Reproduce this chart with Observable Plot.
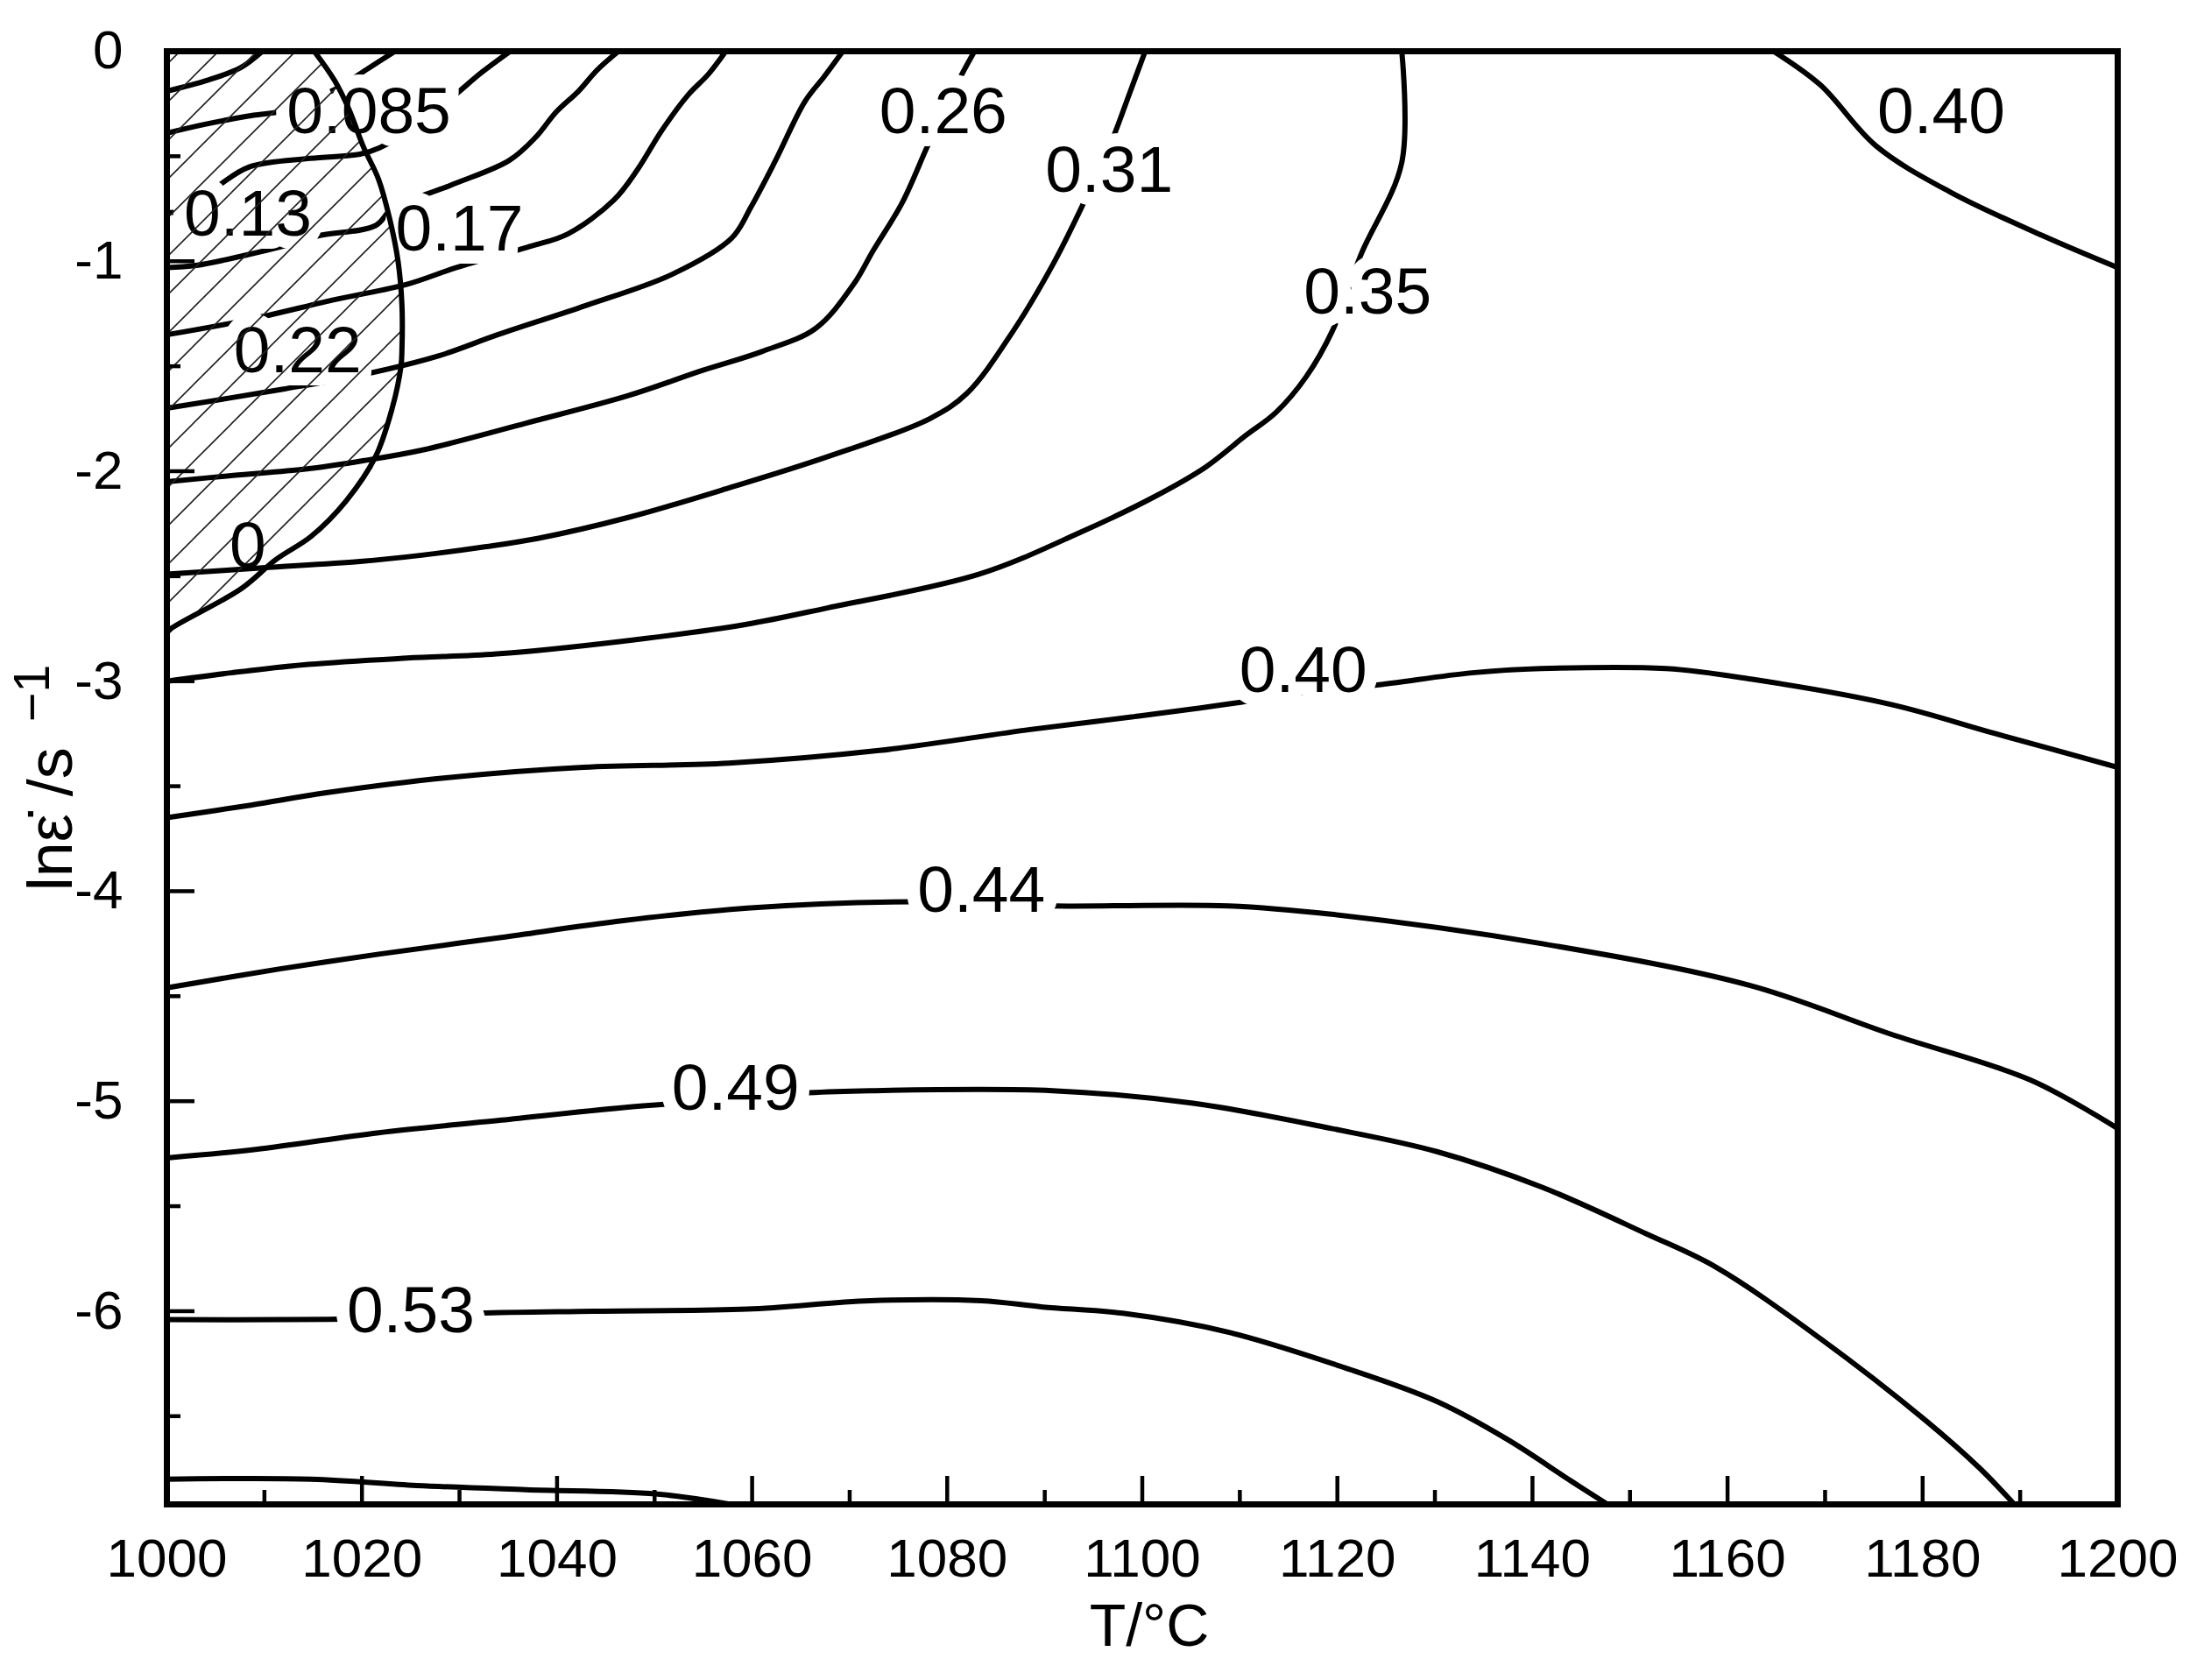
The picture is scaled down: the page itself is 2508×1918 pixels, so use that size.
<!DOCTYPE html>
<html>
<head>
<meta charset="utf-8">
<script src="https://cdn.jsdelivr.net/npm/d3@7"></script>
<script src="https://cdn.jsdelivr.net/npm/@observablehq/plot@0.6"></script>
<style>
  html, body { margin: 0; padding: 0; background: #ffffff; }
</style>
</head>
<body>
<div id="chart"></div>
<script>
// ---------------- data (T in °C, ln strain rate) ----------------
const xMajorTicks = [1000, 1020, 1040, 1060, 1080, 1100, 1120, 1140, 1160, 1180, 1200];
const xMinorTicks = [1010, 1030, 1050, 1070, 1090, 1110, 1130, 1150, 1170, 1190];
const yMajorTicks = [0, -1, -2, -3, -4, -5, -6];
const yMinorTicks = [-0.5, -1.5, -2.5, -3.5, -4.5, -5.5, -6.5];
const xDomain = [1000, 1200];
const yDomain = [-6.92, 0];
const xTitle = "T/°C";
const yTitleMain = "lnε̇ /s";
const yTitleSup = "−1";

// contour lines of power dissipation efficiency
const eta000 = [[1000,-0.19],[1004.0,-0.14],[1007.5,-0.08],[1009.8,0]];
const eta004 = [[1000,-0.39],[1003.7,-0.35],[1008.2,-0.31],[1012.4,-0.28],[1014.9,-0.23],[1017.7,-0.17],[1020.7,-0.08],[1023.4,0]];
const eta085 = [[1000,-0.77],[1002.2,-0.75],[1005.3,-0.64],[1008.5,-0.55],[1014.7,-0.51],[1019.8,-0.49],[1021.8,-0.46],[1026.1,-0.34],[1029.5,-0.21],[1032.3,-0.10],[1035.2,0]];
const eta13 = [[1000,-1.03],[1003.0,-1.02],[1008.2,-0.97],[1011.8,-0.93],[1015.4,-0.88],[1021.4,-0.83],[1023.1,-0.75],[1029.0,-0.64],[1035.1,-0.52],[1037.8,-0.41],[1039.9,-0.29],[1042.2,-0.19],[1044.1,-0.09],[1046.3,0]];
const eta17 = [[1000,-1.35],[1008.2,-1.28],[1017.5,-1.18],[1024.6,-1.11],[1029.7,-1.03],[1037.2,-0.93],[1041.1,-0.87],[1045.8,-0.71],[1048.3,-0.56],[1050.7,-0.38],[1053.4,-0.21],[1055.5,-0.11],[1057.3,0]];
const eta22 = [[1000,-1.70],[1011.8,-1.61],[1020.1,-1.54],[1027.9,-1.45],[1033.9,-1.35],[1043.0,-1.21],[1051.9,-1.06],[1057.9,-0.89],[1059.9,-0.74],[1062.4,-0.52],[1065.4,-0.24],[1067.4,-0.12],[1069.3,0]];
const eta26 = [[1000,-2.05],[1006.8,-2.02],[1014.2,-1.99],[1020.1,-1.95],[1026.1,-1.90],[1036.9,-1.77],[1047.3,-1.64],[1054.9,-1.52],[1061.0,-1.43],[1066.5,-1.32],[1070.4,-1.11],[1072.4,-0.95],[1075.4,-0.72],[1077.9,-0.46],[1079.6,-0.29],[1081.5,-0.11],[1082.8,0]];
const eta31 = [[1000,-2.49],[1009.8,-2.46],[1019.8,-2.43],[1026.1,-2.40],[1032.6,-2.36],[1038.0,-2.32],[1047.3,-2.22],[1057.6,-2.08],[1067.8,-1.93],[1078.2,-1.75],[1082.0,-1.63],[1086.8,-1.33],[1090.9,-1.01],[1093.5,-0.77],[1095.4,-0.58],[1097.1,-0.40],[1098.7,-0.20],[1100.3,0]];
const eta35 = [[1000,-3.00],[1006.6,-2.96],[1014.5,-2.92],[1024.6,-2.89],[1033.8,-2.87],[1046.6,-2.81],[1059.3,-2.73],[1067.8,-2.65],[1083.3,-2.49],[1093.7,-2.29],[1101.3,-2.12],[1106.5,-1.98],[1110.6,-1.83],[1113.7,-1.72],[1116.8,-1.55],[1119.5,-1.33],[1122.4,-0.97],[1126.6,-0.53],[1126.6,0]];
const eta40a = [[1000,-3.65],[1008.6,-3.59],[1016.5,-3.53],[1028.6,-3.46],[1042.7,-3.41],[1057.6,-3.39],[1073.0,-3.33],[1088.5,-3.23],[1098.9,-3.17],[1110.1,-3.10],[1116.7,-3.05],[1123.7,-3.02],[1133.8,-2.96],[1140.9,-2.94],[1153.7,-2.94],[1162.4,-2.99],[1176.7,-3.11],[1187.5,-3.25],[1200,-3.41]];
const eta40b = [[1164.7,0],[1169.5,-0.16],[1175.2,-0.45],[1182.8,-0.67],[1192.4,-0.88],[1200,-1.03]];
const eta44 = [[1000,-4.46],[1011.6,-4.37],[1021.7,-4.30],[1034.3,-4.22],[1046.8,-4.14],[1059.5,-4.08],[1076.4,-4.05],[1090.8,-4.07],[1108.8,-4.07],[1119.4,-4.11],[1141.0,-4.25],[1162.4,-4.45],[1176.7,-4.68],[1191.1,-4.90],[1200,-5.13]];
const eta49 = [[1000,-5.27],[1009.1,-5.23],[1021.7,-5.15],[1034.3,-5.09],[1046.8,-5.03],[1058.5,-4.99],[1065.8,-4.96],[1072.1,-4.95],[1090.8,-4.95],[1105.2,-5.01],[1119.4,-5.13],[1130.2,-5.24],[1141.0,-5.41],[1151.6,-5.63],[1158.8,-5.79],[1169.5,-6.13],[1180.3,-6.52],[1185.9,-6.75],[1189.4,-6.92]];
const eta53 = [[1000,-6.04],[1011.6,-6.04],[1025.0,-6.03],[1032.0,-6.01],[1043.7,-6.00],[1059.5,-5.99],[1072.1,-5.95],[1083.5,-5.95],[1089.8,-5.98],[1098.0,-6.01],[1108.8,-6.10],[1120.8,-6.27],[1130.2,-6.43],[1137.4,-6.61],[1144.0,-6.81],[1147.7,-6.92]];
const eta57 = [[1000,-6.80],[1014.8,-6.80],[1025.6,-6.83],[1036.8,-6.85],[1050.1,-6.87],[1057.8,-6.92]];

// instability boundary (xi = 0), hatched region lies to its left
const instability = [[1015.1,0],[1017.2,-0.14],[1018.7,-0.28],[1020.1,-0.45],[1021.7,-0.61],[1022.8,-0.79],[1023.7,-1.00],[1024.1,-1.21],[1024.1,-1.42],[1024.0,-1.50],[1023.1,-1.70],[1021.4,-1.93],[1018.4,-2.14],[1014.8,-2.31],[1011.2,-2.42],[1007.6,-2.56],[1000.4,-2.75],[1000,-2.77]];

// contour labels
const labelText = ["0.085", "0.13", "0.17", "0.22", "0.26", "0.31", "0.35", "0.40", "0.40", "0.44", "0.49", "0.53"];
const labelT    = [1020.7, 1008.3, 1030.0, 1013.4, 1079.6, 1096.6, 1123.1, 1181.9, 1116.5, 1083.5, 1058.3, 1025.0];
const labelL    = [-0.29, -0.78, -0.85, -1.43, -0.29, -0.57, -1.15, -0.29, -2.95, -4.00, -4.94, -6.00];
const zeroLabelText = ["0"];
const zeroLabelT = [1008.3];
const zeroLabelL = [-2.36];

// ---------------- build tables ----------------
const contourSets = [
  ["0.00", eta000], ["0.04", eta004], ["0.085", eta085], ["0.13", eta13], ["0.17", eta17],
  ["0.22", eta22], ["0.26", eta26], ["0.31", eta31], ["0.35", eta35], ["0.40a", eta40a],
  ["0.40b", eta40b], ["0.44", eta44], ["0.49", eta49], ["0.53", eta53], ["0.57", eta57]
];
const contourRows = contourSets.flatMap(([level, pts]) => pts.map(([T, L]) => ({level, T, L})));
const instRows = instability.map(([T, L]) => ({T, L}));
const labels = labelText.map((t, i) => ({text: t, T: labelT[i], L: labelL[i]}));
const zeroLabels = zeroLabelText.map((t, i) => ({text: t, T: zeroLabelT[i], L: zeroLabelL[i]}));

// ---------------- layout ----------------
const W = 2508, H = 1918;
const mL = 190, mR = 91, mT = 58, mB = 201;
const plotW = W - mL - mR, plotH = H - mT - mB;
const pxX = (xDomain[1] - xDomain[0]) / plotW;
const pxY = (yDomain[1] - yDomain[0]) / plotH;
const majorLen = 32, minorLen = 16;
const font = "'Liberation Sans', Arial, 'DejaVu Sans', sans-serif";
const lineW = 6;

const chart = Plot.plot({
  width: W,
  height: H,
  marginLeft: mL, marginRight: mR, marginTop: mT, marginBottom: mB,
  style: {fontFamily: font, fontSize: "62px", color: "#000", background: "#fff", overflow: "visible"},
  x: {domain: xDomain},
  y: {domain: yDomain},
  marks: [
    Plot.line(contourRows, {x: "T", y: "L", z: "level", stroke: "#000", strokeWidth: lineW, strokeLinejoin: "round", curve: "catmull-rom", clip: true}),
    // label halos (gaps in the lines)
    Plot.text(labels, {x: "T", y: "L", text: "text", fontSize: 75, fill: "#fff", stroke: "#fff", strokeWidth: 30, strokeLinejoin: "round"}),
    Plot.text(labels, {x: "T", y: "L", text: "text", fontSize: 75, fill: "#000"}),
    // hatched instability region
    Plot.areaX(instRows, {x1: xDomain[0], x2: "T", y: "L", fill: "url(#hatch)", curve: "catmull-rom"}),
    Plot.line(instRows, {x: "T", y: "L", stroke: "#000", strokeWidth: lineW, curve: "catmull-rom"}),
    Plot.text(zeroLabels, {x: "T", y: "L", text: "text", fontSize: 75, fill: "#000"}),
    // inward ticks
    Plot.ruleX(xMajorTicks, {x: d => d, y1: yDomain[0], y2: yDomain[0] + majorLen * pxY, stroke: "#000", strokeWidth: 4.5}),
    Plot.ruleX(xMinorTicks, {x: d => d, y1: yDomain[0], y2: yDomain[0] + minorLen * pxY, stroke: "#000", strokeWidth: 4.5}),
    Plot.ruleY(yMajorTicks, {y: d => d, x1: xDomain[0], x2: xDomain[0] + majorLen * pxX, stroke: "#000", strokeWidth: 4.5}),
    Plot.ruleY(yMinorTicks, {y: d => d, x1: xDomain[0], x2: xDomain[0] + minorLen * pxX, stroke: "#000", strokeWidth: 4.5}),
    // tick labels
    Plot.axisX({ticks: xMajorTicks, tickSize: 0, tickPadding: 38, tickFormat: d => String(d), fontSize: 62, label: null}),
    Plot.axisY({ticks: yMajorTicks, tickSize: 0, tickPadding: 50, tickFormat: d => String(d), fontSize: 62, label: null}),
    // axis titles
    Plot.text([xTitle], {frameAnchor: "bottom", lineAnchor: "middle", textAnchor: "middle", dy: 140, dx: 8, fontSize: 68, fill: "#000"}),
    Plot.text([yTitleMain + " " + yTitleSup], {frameAnchor: "left", lineAnchor: "middle", textAnchor: "middle", dx: -132, rotate: -90, fontSize: 72, fill: "#000"}),
    Plot.frame({stroke: "#000", strokeWidth: 7})
  ]
});

document.getElementById("chart").append(chart);

const svg = chart.tagName.toLowerCase() === "svg" ? chart : chart.querySelector("svg");
const ns = "http://www.w3.org/2000/svg";

// superscript in the y title
for (const t of svg.querySelectorAll("text")) {
  if (t.textContent === yTitleMain + " " + yTitleSup) {
    t.textContent = "";
    const a = document.createElementNS(ns, "tspan");
    a.textContent = yTitleMain;
    const b = document.createElementNS(ns, "tspan");
    b.textContent = yTitleSup;
    b.setAttribute("dx", "0.5em");
    b.setAttribute("dy", "-0.45em");
    b.setAttribute("font-size", "0.8em");
    t.appendChild(a);
    t.appendChild(b);
  }
}

// hatch pattern definition
const defs = document.createElementNS(ns, "defs");
const pat = document.createElementNS(ns, "pattern");
pat.setAttribute("id", "hatch");
pat.setAttribute("patternUnits", "userSpaceOnUse");
pat.setAttribute("width", "44");
pat.setAttribute("height", "44");
const hp = document.createElementNS(ns, "path");
hp.setAttribute("d", "M0,44 L44,0 M-11,11 L11,-11 M33,55 L55,33");
hp.setAttribute("stroke", "#222");
hp.setAttribute("stroke-width", "1.6");
hp.setAttribute("fill", "none");
pat.appendChild(hp);
defs.appendChild(pat);
svg.insertBefore(defs, svg.firstChild);
</script>
</body>
</html>
